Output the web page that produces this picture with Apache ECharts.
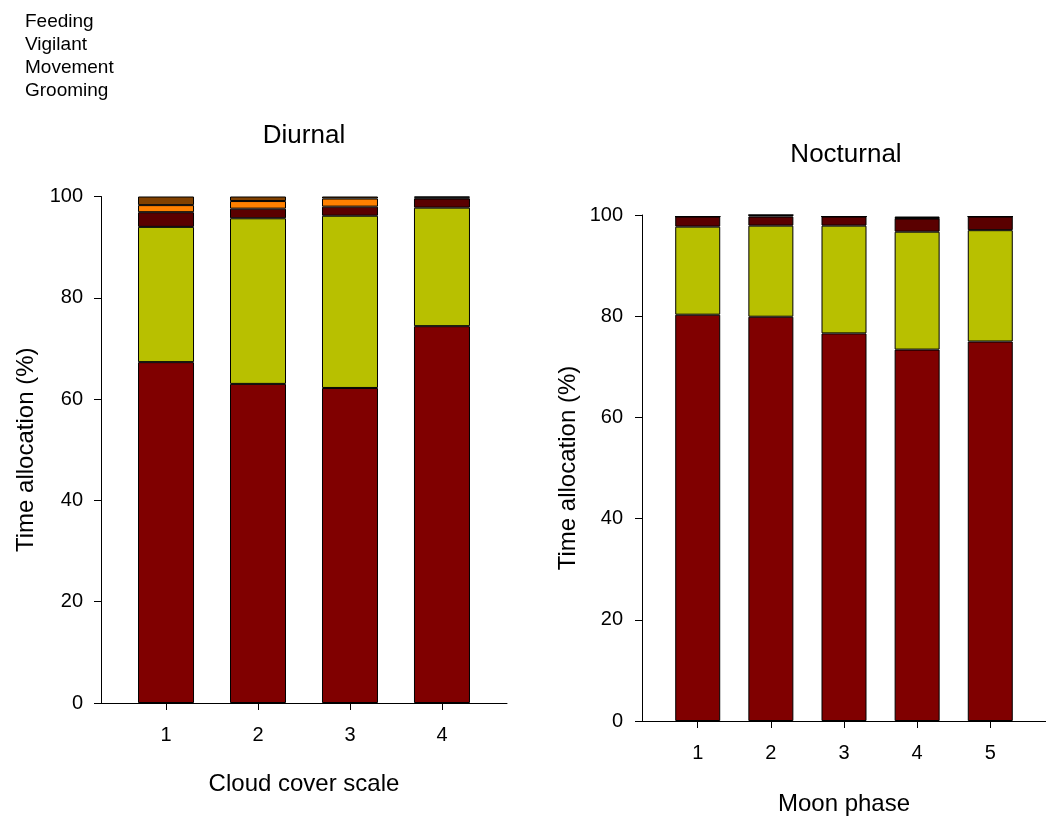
<!DOCTYPE html>
<html>
<head>
<meta charset="utf-8">
<script src="https://cdn.jsdelivr.net/npm/echarts@6/dist/echarts.min.js"></script>
<style>
html,body{margin:0;padding:0;background:#fff;}
#chart{width:1046px;height:821px;}
</style>
</head>
<body>
<div id="chart"></div>
<script>
// ---- data ----
const legendNames = ['Feeding', 'Vigilant', 'Movement', 'Grooming'];
const seriesNames = ['Feeding', 'Vigilant', 'Movement', 'Grooming', 'Other'];

const cloudCats = [1, 2, 3, 4];
const dFeeding  = [67.3, 63.0, 62.2, 74.4];
const dVigilant = [26.7, 32.7, 34.0, 23.4];
const dMovement = [2.9, 1.9, 1.8, 1.8];
const dGrooming = [1.4, 1.5, 1.6, 0.2];
const dOther    = [1.7, 0.9, 0.4, 0.2];

const moonCats  = [1, 2, 3, 4, 5];
const nFeeding  = [80.3, 79.9, 76.6, 73.4, 75.0];
const nVigilant = [17.4, 18.0, 21.3, 23.3, 22.0];
const nMovement = [2.0, 1.8, 1.8, 2.6, 2.7];
const nGrooming = [0, 0.3, 0, 0.1, 0];
const nOther    = [0, 0, 0, 0.3, 0];

const yTicks = [0, 20, 40, 60, 80, 100];

// ---- styles ----
const colors = ['#800000', '#b8c000', '#5a0000', '#ff8000', '#804000'];
const FONT = '"Liberation Sans", Arial, Helvetica, sans-serif';

const diurnal = [dFeeding, dVigilant, dMovement, dGrooming, dOther];
const nocturnal = [nFeeding, nVigilant, nMovement, nGrooming, nOther];

function mkSeries(sets, cats, idx, barW, stack) {
  return sets.map((vals, i) => ({
    type: 'bar',
    name: seriesNames[i],
    xAxisIndex: idx,
    yAxisIndex: idx,
    stack: stack,
    barWidth: barW,
    encode: { x: 1, y: 0 },
    itemStyle: { color: colors[i], borderColor: '#000', borderWidth: 1 },
    data: cats.map((c, j) => [vals[j], c])
  }));
}

function xAxisDef(idx, cats, min, max, name, gap) {
  return {
    type: 'value', gridIndex: idx, min: min, max: max,
    splitLine: { show: false },
    axisLine: { show: true, onZero: false, lineStyle: { color: '#000', width: 1 } },
    axisTick: { show: true, inside: false, length: 7, customValues: cats, lineStyle: { color: '#000' } },
    axisLabel: { show: true, customValues: cats, margin: 22, color: '#000', fontSize: 20, fontFamily: FONT,
      formatter: v => String(v) },
    name: name, nameLocation: 'middle', nameGap: gap,
    nameTextStyle: { color: '#000', fontSize: 24, fontFamily: FONT }
  };
}

function yAxisDef(idx, gap, margin) {
  return {
    type: 'value', gridIndex: idx, min: yTicks[0], max: yTicks[yTicks.length - 1], interval: 20,
    splitLine: { show: false },
    axisLine: { show: true, onZero: false, lineStyle: { color: '#000', width: 1 } },
    axisTick: { show: true, inside: false, length: 7, lineStyle: { color: '#000' } },
    axisLabel: { margin: margin, color: '#000', fontSize: 20, fontFamily: FONT },
    name: 'Time allocation (%)', nameLocation: 'middle', nameGap: gap, nameRotate: 90,
    nameTextStyle: { color: '#000', fontSize: 24, fontFamily: FONT }
  };
}

const chart = echarts.init(document.getElementById('chart'), null, { renderer: 'canvas' });
const option = {
  animation: false,
  backgroundColor: '#fff',
  textStyle: { fontFamily: FONT },
  legend: {
    data: legendNames,
    orient: 'vertical',
    left: 14, top: 5,
    itemWidth: 0, itemHeight: 0, itemGap: 0,
    selectedMode: false,
    icon: 'rect',
    textStyle: { color: '#000', fontSize: 19, fontFamily: FONT, lineHeight: 23 }
  },
  graphic: [
    { type: 'text', x: 304, y: 136, style: { text: 'Diurnal', font: '26px ' + FONT, fill: '#000', textAlign: 'center', textVerticalAlign: 'middle' } },
    { type: 'text', x: 846, y: 155, style: { text: 'Nocturnal', font: '26px ' + FONT, fill: '#000', textAlign: 'center', textVerticalAlign: 'middle' } }
  ],
  grid: [
    { left: 101, top: 196.5, width: 406, height: 506.5 },
    { left: 642, top: 215, width: 406, height: 507 }
  ],
  xAxis: [
    xAxisDef(0, cloudCats, 0.293, 4.707, 'Cloud cover scale', 69),
    xAxisDef(1, moonCats, 0.238, 5.762, 'Moon phase', 71)
  ],
  yAxis: [
    yAxisDef(0, 63, 18),
    yAxisDef(1, 62, 19)
  ],
  series: [].concat(
    mkSeries(diurnal, cloudCats, 0, 56, 'day'),
    mkSeries(nocturnal, moonCats, 1, 45, 'night')
  )
};
chart.setOption(option);
</script>
</body>
</html>
